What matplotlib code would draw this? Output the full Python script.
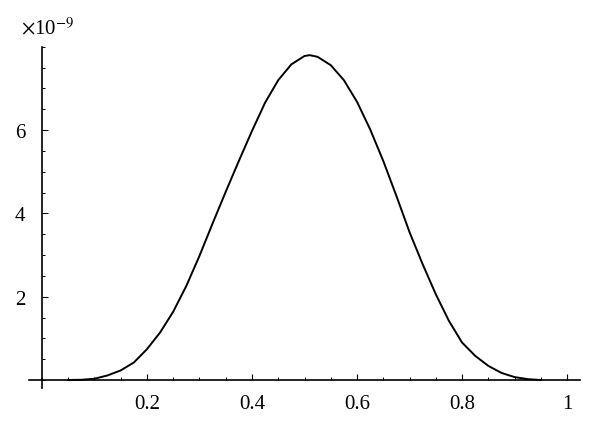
import matplotlib
matplotlib.use('Agg')
import matplotlib.pyplot as plt
from matplotlib.ticker import MultipleLocator, FixedLocator

plt.rcParams['font.family'] = ['Liberation Serif', 'DejaVu Serif']
plt.rcParams['mathtext.fontset'] = 'stix'

# Curve values (y in units of 1e-9)
x_vals = [0.05, 0.075, 0.1, 0.125, 0.15, 0.175, 0.2, 0.225, 0.25, 0.275,
          0.3, 0.325, 0.35, 0.375, 0.4, 0.425, 0.45, 0.475, 0.5, 0.51,
          0.525, 0.55, 0.575, 0.6, 0.625, 0.65, 0.675, 0.7, 0.725, 0.75,
          0.775, 0.8, 0.825, 0.85, 0.875, 0.9, 0.925, 0.95]
y_vals = [0.0, 0.005, 0.03, 0.11, 0.23, 0.42, 0.74, 1.14, 1.64, 2.26,
          2.98, 3.76, 4.52, 5.26, 5.98, 6.66, 7.2, 7.58, 7.78, 7.8,
          7.76, 7.56, 7.2, 6.68, 6.02, 5.26, 4.42, 3.55, 2.78, 2.06,
          1.42, 0.9, 0.58, 0.34, 0.17, 0.07, 0.02, 0.0]

x_ticks = [0.2, 0.4, 0.6, 0.8, 1.0]
x_tick_labels = ['0.2', '0.4', '0.6', '0.8', '1']
y_ticks = [2, 4, 6]
y_tick_labels = ['2', '4', '6']

fig = plt.figure(figsize=(6, 4.31), dpi=100)
ax = fig.add_axes([0.048, 0.0967, 0.919, 0.7923])

ax.plot(x_vals, y_vals, color='black', linewidth=1.4)

ax.set_xlim(-0.025, 1.025)
ax.set_ylim(-0.2, 8.0)

# Axes crossing at the origin
ax.spines['left'].set_position(('data', 0))
ax.spines['bottom'].set_position(('data', 0))
ax.spines['right'].set_visible(False)
ax.spines['top'].set_visible(False)
for s in ('left', 'bottom'):
    ax.spines[s].set_linewidth(1.2)

ax.xaxis.set_major_locator(FixedLocator(x_ticks))
ax.set_xticklabels(x_tick_labels)
ax.xaxis.set_minor_locator(MultipleLocator(0.05))
ax.yaxis.set_major_locator(FixedLocator(y_ticks))
ax.set_yticklabels(y_tick_labels)
ax.yaxis.set_minor_locator(MultipleLocator(0.5))

ax.tick_params(axis='x', which='major', direction='in', length=4, width=0.8,
               labelsize=15, pad=10)
ax.tick_params(axis='x', which='minor', direction='in', length=2.2, width=0.7)
ax.tick_params(axis='y', which='major', direction='in', length=4, width=0.8,
               labelsize=15, pad=12)
ax.tick_params(axis='y', which='minor', direction='in', length=2.2, width=0.7)

fig.text(0.035, 0.92, r'$\times$10$^{-9}$', fontsize=15)

fig.savefig('out.png', dpi=100)
